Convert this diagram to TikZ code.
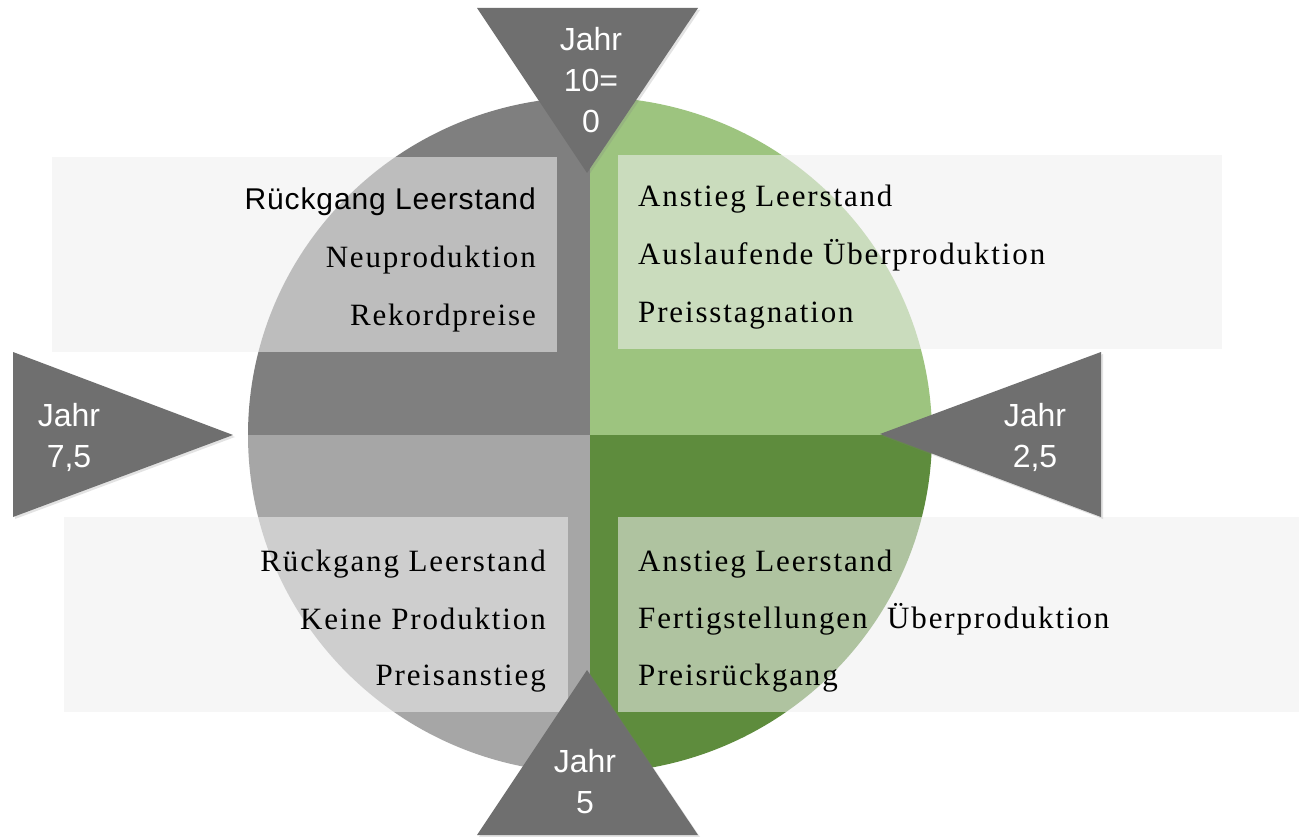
\documentclass[tikz,border=0pt]{standalone}
\usepackage{fontspec}
\setmainfont{Liberation Serif}
\newfontfamily\arialf{Liberation Sans}
\newfontfamily\serifsp[LetterSpace=6]{Liberation Serif}
\newfontfamily\sanssp[LetterSpace=3]{Liberation Sans}
\usetikzlibrary{shadows}
\definecolor{qTL}{HTML}{7F7F7F}
\definecolor{qTR}{HTML}{9DC47F}
\definecolor{qBR}{HTML}{5E8C3D}
\definecolor{qBL}{HTML}{A6A6A6}
\definecolor{triC}{HTML}{6F6F6F}
\definecolor{boxC}{HTML}{EFEFEF}
\tikzset{
  infobox/.style={fill=boxC, fill opacity=0.56},
  tri/.style={fill=triC, drop shadow={opacity=0.22, shadow xshift=2pt, shadow yshift=-2pt}},
  itemtxt/.style={font=\serifsp\fontsize{31}{37}\selectfont, inner sep=0pt, text=black},
  itemsans/.style={font=\sanssp\fontsize{30}{36}\selectfont, inner sep=0pt, text=black},
  jahr/.style={font=\arialf\fontsize{32}{41}\selectfont, text=white, align=center, inner sep=0pt}
}
\begin{document}
\begin{tikzpicture}[x=1pt,y=-1pt]
\useasboundingbox (0,0) rectangle (1299,837);
\fill[white] (0,0) rectangle (1299,837);
% circle quadrants
\begin{scope}
  \clip (590,435) ellipse [x radius=342pt, y radius=338pt];
  \fill[qTL] (590,435) rectangle (200,60);
  \fill[qTR] (590,435) rectangle (980,60);
  \fill[qBR] (590,435) rectangle (980,800);
  \fill[qBL] (590,435) rectangle (200,800);
\end{scope}
% semi-transparent boxes
\fill[infobox] (52,157) rectangle (557,352);
\fill[infobox] (618,155) rectangle (1222,349);
\fill[infobox] (64,517) rectangle (568,712);
\fill[infobox] (618,517) rectangle (1299,712);
% texts top-left
\node[itemsans, anchor=base east] (tl1) at (536,210) {Rückgang Leerstand};
\node[itemtxt, anchor=base east] (tl2) at (536,268) {Neuproduktion};
\node[itemtxt, anchor=base east] (tl3) at (536,325) {Rekordpreise};
% texts top-right
\node[itemtxt, anchor=base west] (tr1) at (638,207) {Anstieg Leerstand};
\node[itemtxt, anchor=base west] (tr2) at (638,265) {Auslaufende Überproduktion};
\node[itemtxt, anchor=base west] (tr3) at (638,322) {Preisstagnation};
% texts bottom-left
\node[itemtxt, anchor=base east] (bl1) at (546,571) {Rückgang Leerstand};
\node[itemtxt, anchor=base east] (bl2) at (546,629) {Keine Produktion};
\node[itemtxt, anchor=base east] (bl3) at (546,685) {Preisanstieg};
% texts bottom-right
\node[itemtxt, anchor=base west] (br1) at (638,571) {Anstieg Leerstand};
\node[itemtxt, anchor=base west] (br2) at (638,628) {Fertigstellungen\hspace{10pt} Überproduktion};
\node[itemtxt, anchor=base west] (br3) at (638,685) {Preisrückgang};
% triangles
\fill[tri] (477,8) -- (698,8) -- (587,173) -- cycle;
\fill[tri] (13,352) -- (13,517) -- (233,435) -- cycle;
\fill[tri] (1101,352) -- (1101,517) -- (880,434) -- cycle;
\fill[tri] (477,835) -- (698,835) -- (587,670) -- cycle;
\node[jahr] (j0) at (591,80) {Jahr\\10=\\0};
\node[jahr] (j75) at (69,437) {Jahr\\7,5};
\node[jahr] (j25) at (1035,437) {Jahr\\2,5};
\node[jahr] (j5) at (585,782) {Jahr\\5};
\end{tikzpicture}
\end{document}
